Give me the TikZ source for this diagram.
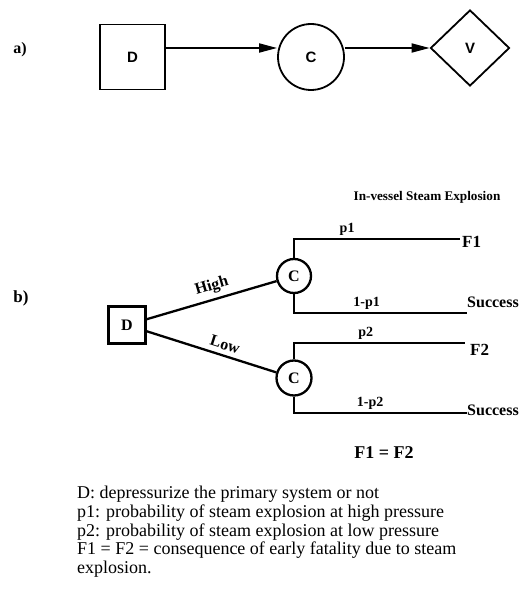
\documentclass[tikz,border=0pt]{standalone}
\usepackage{fontspec}
\setmainfont{Liberation Serif}
\setsansfont{Liberation Sans}
\usetikzlibrary{shapes.geometric,arrows.meta}
\tikzset{
    ablock/.style={draw,line width=1.8pt,inner sep=0pt,font=\sffamily\bfseries\fontsize{15}{17}\selectfont},
    bblock/.style={draw,line width=2.3pt,inner sep=0pt,font=\bfseries\fontsize{16}{18}\selectfont},
    blabel/.style={font=\bfseries\fontsize{14}{16}\selectfont,inner sep=2pt},
    slopelabel/.style={sloped,above,inner sep=4.5pt,font=\bfseries\fontsize{16}{18}\selectfont},
    outcome/.style={font=\bfseries\fontsize{17}{19}\selectfont,inner sep=0pt},
    arr/.style={-{Triangle[length=18pt,width=9pt]}}
}
\begin{document}
\begin{tikzpicture}[x=1pt,y=-1pt]
    \useasboundingbox (0,0) rectangle (525,599);
    % a)
    \node[font=\bfseries\fontsize{16}{18}\selectfont] (tagA) at (20,50) {a)};
    \node[ablock,minimum size=65pt] (Da) at (132.5,57) {D};
    \node[ablock,circle,minimum size=66pt] (Ca) at (311,57) {C};
    \node[ablock,diamond,minimum width=79pt,minimum height=76pt] (Va) at (470,48) {V};
    \draw[line width=1.8pt,arr] (Da.east |- Va) -- (Ca.west |- Va);
    \draw[line width=1.8pt,arr] (Ca.east |- Va) -- (Va.west);

    % b)
    \node[font=\bfseries\fontsize{17}{19}\selectfont] (tagB) at (21,298) {b)};
    \node[font=\bfseries\fontsize{13.2}{15}\selectfont] (title) at (427,197) {In-vessel Steam Explosion};
    \node[bblock,minimum size=37pt] (Db) at (127,325) {D};
    \node[bblock,circle,minimum size=34pt] (C1) at (294,276) {C};
    \node[bblock,circle,minimum size=35pt] (C2) at (294,378) {C};
    \coordinate (e1) at (460,239);
    \coordinate (e2) at (467,313);
    \coordinate (e3) at (465,343);
    \coordinate (e4) at (467,413);
    \draw[line width=2.3pt] (Db) -- node[slopelabel,pos=0.53] {High} (C1);
    \draw[line width=2.3pt] (Db) -- node[slopelabel,pos=0.58] {Low} (C2);
    \draw[line width=2.3pt] (C1.north) |- node[blabel,above,pos=0.66] {p1} (e1);
    \draw[line width=2.3pt] (C1.south) |- node[blabel,above,pos=0.71] {1-p1} (e2);
    \draw[line width=2.3pt] (C2.north) |- node[blabel,above,pos=0.71] {p2} (e3);
    \draw[line width=2.3pt] (C2.south) |- node[blabel,above,pos=0.72] {1-p2} (e4);
    \node[outcome,anchor=west] (F1) at (462,242) {F1};
    \node[outcome,anchor=west] (F2) at (470,350) {F2};
    \node[font=\bfseries\fontsize{16}{18}\selectfont] (s1) at (493,302) {Success};
    \node[font=\bfseries\fontsize{16}{18}\selectfont] (s2) at (493,410) {Success};
    \node[font=\bfseries\fontsize{18}{20}\selectfont] (eq) at (384,453) {F1 = F2};

    % legend
    \node[anchor=north west,align=left,inner sep=0pt,font=\fontsize{18}{18.75}\selectfont] (legend) at (77,486) {D: depressurize the primary system or not\\
p1: probability of steam explosion at high pressure\\
p2: probability of steam explosion at low pressure\\
F1 = F2 = consequence of early fatality due to steam\\
explosion.};
\end{tikzpicture}
\end{document}
